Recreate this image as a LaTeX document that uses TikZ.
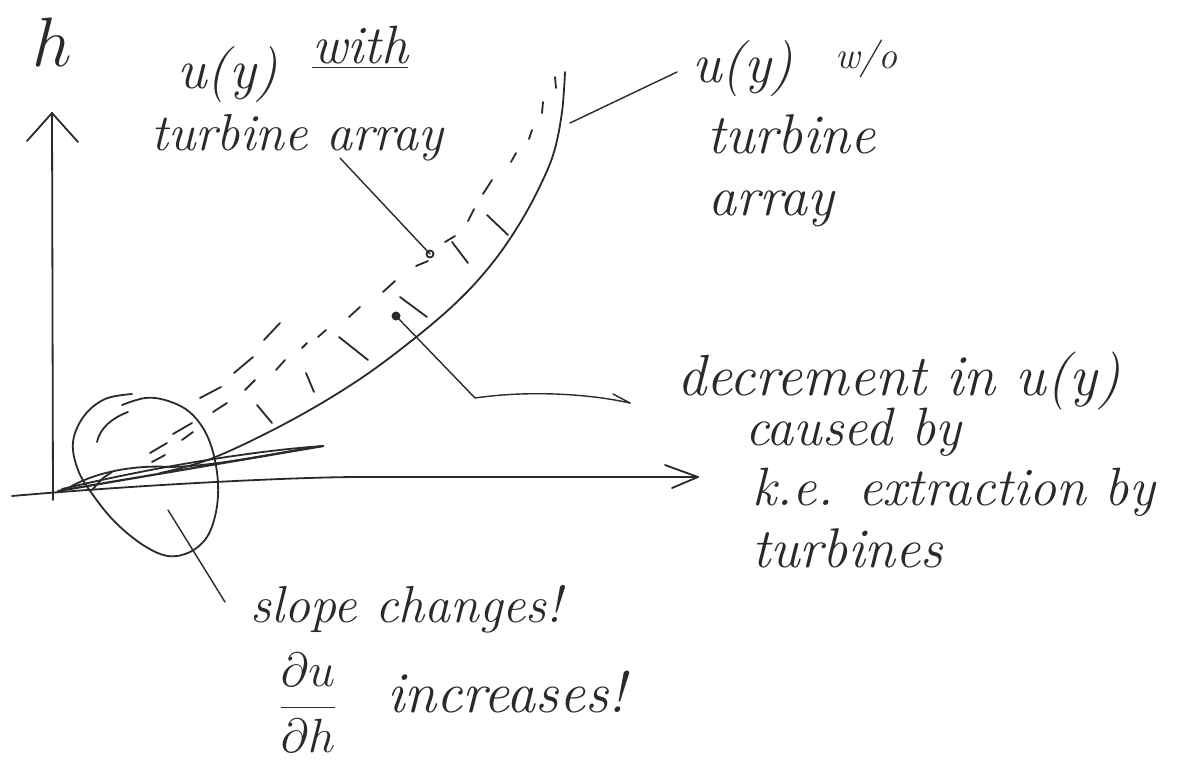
\RequirePackage{fix-cm}
\documentclass[tikz,border=0pt]{standalone}
\usepackage{amsmath}
\definecolor{ink}{HTML}{2A2A2A}
\tikzset{
  pen/.style={draw=ink, line width=1.8pt, line cap=round, line join=round},
  thinpen/.style={draw=ink, line width=1.4pt, line cap=round, line join=round},
  hand/.style={text=ink, inner sep=0pt, anchor=base west,
    font=\fontsize{#1}{#1}\selectfont\itshape},
  hand/.default=54,
}
\begin{document}
\begin{tikzpicture}[x=1pt,y=-1pt]
\useasboundingbox[fill=white] (0,0) rectangle (1197,761);

% ---- axes ----
\coordinate (htop) at (52,113);
\coordinate (xend) at (698,477);
\draw[pen] (53,500) -- (htop);
\draw[pen] (27,141) -- (htop) -- (78,142);
\draw[pen] (12,496) .. controls (150,484) and (300,477) .. (360,477) -- (xend);
\draw[pen] (665,465) -- (xend) -- (672,488);
\node[text=ink, inner sep=0pt, font=\fontsize{70}{70}\selectfont] (hlab) at (52,42) {$h$};

% ---- u(y) without turbines: solid curve ----
\draw[pen] plot[smooth, tension=0.6] coordinates {
  (565,72) (562,112) (554,152) (540,186) (520,223) (494,261) (462,297)
  (420,334) (360,379) (290,421) (213,458) (160,473)};

% ---- scribbled near-wall profile ----
\draw[pen, line width=2.2pt] (58,491) -- (323,446);
\draw[pen] (62,489) .. controls (150,468) and (250,451) .. (323,446);
\draw[pen] (70,487) .. controls (100,470) and (140,465) .. (170,467)
           .. controls (220,466) and (280,452) .. (323,446);
\draw[pen] (92,490) -- (103,478) -- (112,472);

% ---- u(y) with turbines: dashed profile (two rows of strokes) ----
\foreach \a/\b in {
  {(555,77)}/{(556,88)}, {(543,102)}/{(542,113)}, {(532,130)}/{(529,139)},
  {(516,153)}/{(511,162)}, {(492,180)}/{(483,194)}, {(474,209)}/{(468,221)},
  {(455,236)}/{(445,242)}, {(428,261)}/{(416,266)}, {(395,281)}/{(383,292)},
  {(360,307)}/{(349,317)}, {(326,330)}/{(318,337)}, {(307,343)}/{(302,348)},
  {(285,360)}/{(276,370)}, {(255,380)}/{(245,390)}, {(227,403)}/{(213,412)},
  {(193,432)}/{(182,440)}, {(165,455)}/{(152,462)}}
  \draw[pen] \a -- \b;
\foreach \a/\b in {
  {(167,443)}/{(150,453)}, {(192,423)}/{(173,434)}, {(221,387)}/{(200,398)},
  {(253,357)}/{(234,373)}, {(280,323)}/{(264,340)}}
  \draw[pen] \a -- \b;
\draw[pen] (97,442) .. controls (100,428) and (112,418) .. (128,412);

% ---- hatching for the velocity decrement ----
\foreach \a/\b in {
  {(257,405)}/{(272,423)}, {(306,373)}/{(314,392)}, {(339,337)}/{(368,360)},
  {(400,297)}/{(427,317)}, {(452,242)}/{(468,263)}, {(487,215)}/{(508,235)}}
  \draw[pen] \a -- \b;

% ---- loop round the near-wall region ----
\draw[pen] plot[smooth, tension=0.6] coordinates {
  (132,394) (105,399) (84,416) (73,442) (78,470) (93,495) (115,522)
  (143,545) (168,556) (190,552) (207,537) (216,512) (218,483) (213,452)
  (203,428) (187,410) (165,400) (145,398) (122,405)};

% ---- labels ----
\node[hand=56] (uw) at (177,88) {u(y)};
\node[hand=54] (with) at (312,63) {\underline{with}};
\node[hand=52] (tawith) at (151,150) {turbine array};

\node[hand=56] (uwo) at (692,82) {u(y)};
\node[hand=38] (wo) at (835,68) {w/o};
\node[hand=56] (tb2) at (707,153) {turbine};
\node[hand=56] (ar2) at (708,215) {array};

\node[hand=58] (dec1) at (677,395) {decrement in u(y)};
\node[hand=54] (dec2) at (745,445) {caused by};
\node[hand=54] (dec3) at (752,505) {k.e. extraction by};
\node[hand=56] (dec4) at (752,567) {turbines};

\node[hand=52] (slope) at (250,622) {slope changes!};
\node[text=ink, inner sep=0pt, font=\fontsize{48}{48}\selectfont] (frac)
  at (308,703) {$\dfrac{\partial u}{\partial h}$};
\node[hand=58] (incr) at (387,712) {increases!};

% ---- pointers ----
\coordinate (tailA) at (340,158);
\coordinate (dotA) at (430,254);
\draw[thinpen] (tailA) -- (dotA);
\draw[pen] (dotA) circle (3.5pt);

\coordinate (tailB) at (570,123);
\coordinate (headB) at (677,72);
\draw[thinpen] (tailB) -- (headB);

\coordinate (dotC) at (396,316);
\coordinate (kneeC) at (475,398);
\coordinate (tipC) at (630,403);
\fill[ink] (dotC) circle (4.5pt);
\draw[thinpen] (dotC) -- (kneeC) .. controls (530,390) and (590,394) .. (tipC);
\draw[thinpen] (613,394) -- (tipC);

\coordinate (tailD) at (168,510);
\coordinate (headD) at (225,602);
\draw[thinpen] (tailD) -- (headD);
\end{tikzpicture}
\end{document}
